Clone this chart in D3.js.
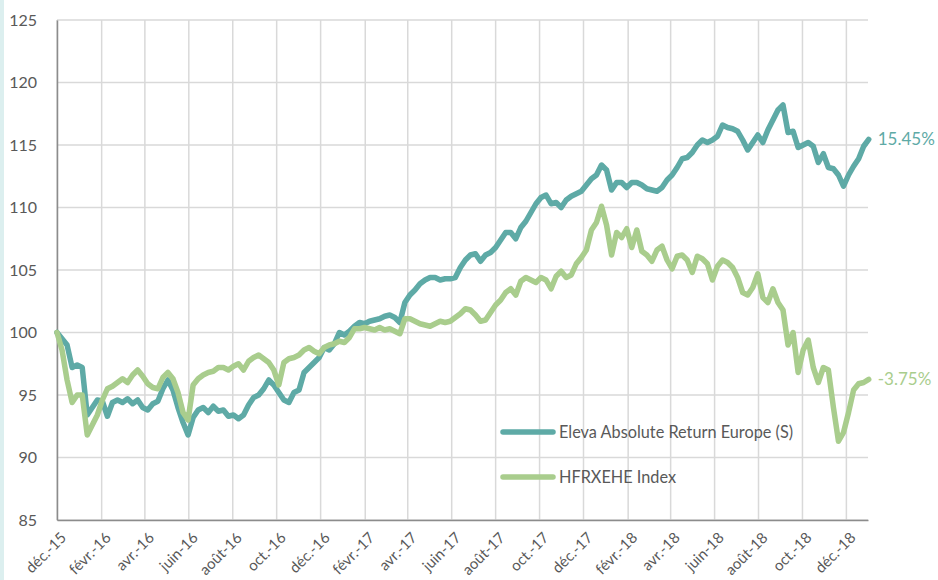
<!DOCTYPE html>
<html>
<head>
<meta charset="utf-8">
<script src="https://cdn.jsdelivr.net/npm/d3@7"></script>
<style>
  html, body { margin: 0; padding: 0; background: #ffffff; }
  svg { display: block; font-family: Lato, "Noto Sans", sans-serif; }
</style>
</head>
<body>
<svg id="chart" width="938" height="580"></svg>
<script>
// ---------------- DATA ----------------
const seriesNames = ["Eleva Absolute Return Europe (S)", "HFRXEHE Index"];
const startDate = "2015-12-01";
const stepDays = 7; // weekly observations
const elevaValues = [
  100.0, 99.5, 99.0, 97.2, 97.4, 97.2, 93.4, 94.0, 94.6, 94.5,
  93.3, 94.4, 94.6, 94.4, 94.7, 94.3, 94.6, 94.0, 93.8, 94.3,
  94.5, 95.5, 96.2, 95.4, 94.0, 92.8, 91.8, 93.2, 93.8, 94.0,
  93.6, 94.1, 93.7, 93.8, 93.3, 93.4, 93.1, 93.4, 94.2, 94.8,
  95.0, 95.5, 96.2, 95.8, 95.2, 94.6, 94.4, 95.2, 95.4, 96.8,
  97.2, 97.6, 98.0, 98.8, 98.6, 99.1, 100.0, 99.8, 100.1, 100.5,
  100.8, 100.7, 100.9, 101.0, 101.1, 101.3, 101.4, 101.2, 100.8, 102.4,
  103.0, 103.4, 103.9, 104.2, 104.4, 104.4, 104.2, 104.3, 104.3, 104.4,
  105.2, 105.8, 106.2, 106.3, 105.7, 106.2, 106.4, 106.8, 107.4, 108.0,
  108.0, 107.5, 108.4, 108.9, 109.6, 110.3, 110.8, 111.0, 110.3, 110.4,
  110.0, 110.6, 110.9, 111.1, 111.3, 111.8, 112.3, 112.6, 113.4, 113.0,
  111.4, 112.0, 112.0, 111.6, 112.0, 112.0, 111.8, 111.5, 111.4, 111.3,
  111.6, 112.2, 112.6, 113.2, 113.9, 114.0, 114.4, 115.0, 115.4, 115.2,
  115.4, 115.7, 116.6, 116.4, 116.3, 116.1, 115.4, 114.6, 115.2, 115.8,
  115.2, 116.2, 117.0, 117.8, 118.2, 116.0, 116.1, 114.8, 115.0, 115.2,
  114.9, 113.6, 114.3, 113.2, 113.1, 112.6, 111.7, 112.6, 113.3, 113.9,
  114.9, 115.45
];
const hfrxValues = [
  100.0, 98.6, 96.2, 94.4, 95.0, 95.0, 91.8, 92.6, 93.4, 94.6,
  95.5, 95.7, 96.0, 96.3, 96.0, 96.6, 97.0, 96.5, 95.9, 95.6,
  95.5, 96.4, 96.8, 96.3, 95.2, 93.6, 93.0, 95.8, 96.3, 96.6,
  96.8, 96.9, 97.2, 97.2, 97.0, 97.3, 97.5, 97.0, 97.7, 98.0,
  98.2, 97.9, 97.6, 97.0, 95.8, 97.6, 97.9, 98.0, 98.2, 98.6,
  98.8, 98.5, 98.3, 98.8, 99.0, 99.1, 99.3, 99.2, 99.6, 100.3,
  100.3, 100.4, 100.3, 100.2, 100.4, 100.2, 100.3, 100.1, 99.9, 101.1,
  101.1, 100.9, 100.7, 100.6, 100.5, 100.7, 100.9, 100.8, 100.9, 101.2,
  101.5, 101.9, 101.8, 101.4, 100.9, 101.0, 101.6, 102.2, 102.6, 103.2,
  103.5, 103.0, 104.1, 104.4, 104.2, 104.0, 104.4, 104.2, 103.5, 104.5,
  104.9, 104.4, 104.6, 105.5, 106.0, 106.6, 108.2, 108.8, 110.1, 108.6,
  106.2, 108.0, 107.6, 108.3, 106.8, 108.2, 106.5, 106.2, 105.7, 106.6,
  106.9, 105.8, 105.1, 106.1, 106.2, 105.8, 104.8, 106.1, 105.9, 105.5,
  104.2, 105.3, 105.8, 105.6, 105.2, 104.4, 103.2, 103.0, 103.6, 104.7,
  102.8, 102.4, 103.5, 102.4, 101.8, 99.0, 100.0, 96.8, 98.6, 99.4,
  97.2, 96.0, 97.2, 97.0, 94.0, 91.3, 92.0, 93.6, 95.4, 95.9,
  96.0, 96.25
];
const endLabels = ["15.45%", "-3.75%"];
const tickDates = [
  "2015-12-01", "2016-02-01", "2016-04-01", "2016-06-01", "2016-08-01", "2016-10-01",
  "2016-12-01", "2017-02-01", "2017-04-01", "2017-06-01", "2017-08-01", "2017-10-01",
  "2017-12-01", "2018-02-01", "2018-04-01", "2018-06-01", "2018-08-01", "2018-10-01",
  "2018-12-01"
];
const tickLabels = [
  "déc.-15", "févr.-16", "avr.-16", "juin-16", "août-16", "oct.-16",
  "déc.-16", "févr.-17", "avr.-17", "juin-17", "août-17", "oct.-17",
  "déc.-17", "févr.-18", "avr.-18", "juin-18", "août-18", "oct.-18",
  "déc.-18"
];
const yTicks = [85, 90, 95, 100, 105, 110, 115, 120, 125];
const xDomainDates = ["2015-12-01", "2018-12-31"];
const colors = ["#5eaaa6", "#a9cd8d"];

// ---------------- CHART ----------------
const parse = d3.utcParse("%Y-%m-%d");
const t0 = parse(startDate);
const dates = elevaValues.map((_, i) => d3.utcDay.offset(t0, i * stepDays));
const series = [elevaValues, hfrxValues].map((vals, s) => ({
  name: seriesNames[s],
  color: colors[s],
  label: endLabels[s],
  points: vals.map((v, i) => ({ date: dates[i], value: v }))
}));

const svg = d3.select("#chart");
const margin = { left: 57, right: 70, top: 20, bottom: 60 };
const W = 938, H = 580;

// light strip at the left edge
svg.append("rect").attr("x", 0).attr("y", 0).attr("width", 4).attr("height", H).attr("fill", "#dcefef");

const x = d3.scaleUtc().domain(xDomainDates.map(parse)).range([margin.left, W - margin.right]);
const y = d3.scaleLinear().domain([85, 125]).range([H - margin.bottom, margin.top]);

// grid
const grid = svg.append("g");
grid.selectAll("line.h").data(yTicks).join("line")
  .attr("x1", x.range()[0]).attr("x2", x.range()[1])
  .attr("y1", d => y(d)).attr("y2", d => y(d))
  .attr("stroke", "#d9d9d9").attr("stroke-width", 1.5);
grid.selectAll("line.v").data(tickDates.map(parse)).join("line")
  .attr("x1", d => x(d)).attr("x2", d => x(d))
  .attr("y1", y.range()[0]).attr("y2", y.range()[1])
  .attr("stroke", "#d9d9d9").attr("stroke-width", 1.5);

// axes
const yAxis = d3.axisLeft(y).tickValues(yTicks).tickSize(0).tickPadding(20);
const gy = svg.append("g").attr("transform", `translate(${x.range()[0]},0)`).call(yAxis);
gy.select(".domain").attr("stroke", "#8c8c8c").attr("stroke-width", 1.5);
gy.selectAll("text").attr("font-size", 16).attr("fill", "#595959").attr("font-family", "Lato, sans-serif");

const xAxis = d3.axisBottom(x).tickValues(tickDates.map(parse)).tickSize(0)
  .tickFormat((d, i) => tickLabels[i]);
const gx = svg.append("g").attr("transform", `translate(0,${y.range()[0]})`).call(xAxis);
gx.select(".domain").attr("stroke", "#8c8c8c").attr("stroke-width", 1.5);
gx.selectAll("text")
  .attr("font-size", 15).attr("fill", "#595959").attr("font-family", "Lato, sans-serif")
  .attr("text-anchor", "end")
  .attr("dy", "0.35em")
  .attr("transform", "translate(6,15) rotate(-45)")
  .attr("y", 0).attr("x", 0);

// lines
const line = d3.line().x(d => x(d.date)).y(d => y(d.value));
svg.append("g").selectAll("path").data(series).join("path")
  .attr("d", d => line(d.points))
  .attr("fill", "none")
  .attr("stroke", d => d.color)
  .attr("stroke-width", 5.5)
  .attr("stroke-linejoin", "round")
  .attr("stroke-linecap", "round");

// end labels
svg.append("g").selectAll("text").data(series).join("text")
  .attr("x", d => x(d.points[d.points.length - 1].date) + 9)
  .attr("y", d => y(d.points[d.points.length - 1].value))
  .attr("dy", "0.35em")
  .attr("font-size", 17)
  .attr("fill", d => d.color)
  .text(d => d.label);

// legend
const legendY = [432, 477];
const lg = svg.append("g").selectAll("g").data(series).join("g")
  .attr("transform", (d, i) => `translate(503,${legendY[i]})`);
lg.append("line").attr("x1", 0).attr("x2", 50).attr("y1", 0).attr("y2", 0)
  .attr("stroke", d => d.color).attr("stroke-width", 5.5).attr("stroke-linecap", "round");
lg.append("text").attr("x", 56).attr("y", 0).attr("dy", "0.35em")
  .attr("font-size", 16.3).attr("fill", "#595959")
  .text(d => d.name);
</script>
</body>
</html>
